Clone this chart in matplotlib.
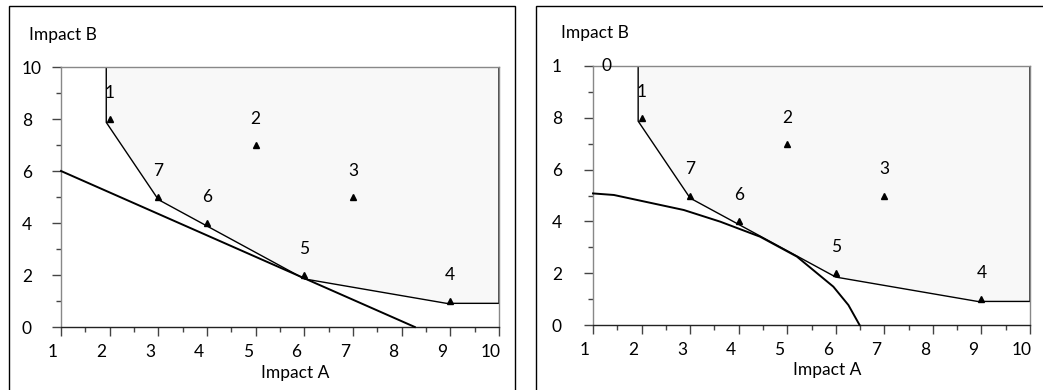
import matplotlib.pyplot as plt
from matplotlib.patches import Rectangle, Polygon
from matplotlib.transforms import ScaledTranslation

# alternatives (impact A, impact B)
labels = ['1', '2', '3', '4', '5', '6', '7']
impact_a = [2, 5, 7, 9, 6, 4, 3]
impact_b = [8, 7, 5, 1, 2, 4, 5]

# dominated region (hull) outline
hull_a = [1.93, 1.93, 3.0, 6.0, 8.92, 10.0, 10.0]
hull_b = [10.0, 7.87, 4.9, 1.85, 0.91, 0.91, 10.0]

# left panel: linear weighting line
line_a = [1.0, 8.27]
line_b = [6.0, 0.0]

# right panel: non-linear utility curve
curve_a = [1.0, 1.43, 2.87, 3.62, 4.44, 5.2, 5.95, 6.26, 6.49]
curve_b = [5.08, 5.02, 4.44, 3.99, 3.41, 2.64, 1.48, 0.77, 0.0]

plt.rcParams['font.family'] = ['Lato', 'DejaVu Sans']
fs = 12.5

W, H = 1043, 390
fig = plt.figure(figsize=(W / 100, H / 100), dpi=100)

# outer frames round each panel
for x0, x1 in [(9, 515), (536, 1050)]:
    fig.patches.append(Rectangle((x0 / W, -0.1), (x1 - x0) / W, 1.1 - 6 / H,
                                 transform=fig.transFigure, fill=False,
                                 edgecolor='black', linewidth=1.0))


def panel(rect, curve, top_label, ylab_x, impb_xy, impa_xy):
    ax = fig.add_axes(rect)
    ax.set_xlim(1, 10)
    ax.set_ylim(0, 10)
    for s in ['top', 'right', 'left']:
        ax.spines[s].set_color('#888888')
        ax.spines[s].set_linewidth(1.0)
    ax.spines['bottom'].set_color('#222222')
    ax.spines['bottom'].set_linewidth(1.0)

    ax.add_patch(Polygon(list(zip(hull_a, hull_b)), closed=False,
                         facecolor='#f8f8f8', edgecolor='black',
                         linewidth=1.0, zorder=2))
    ax.plot(curve[0], curve[1], color='black', linewidth=1.4, zorder=3,
            clip_on=False)
    ax.plot(impact_a, impact_b, linestyle='none', marker='^', color='black',
            markersize=5, zorder=4)
    for lab, a, b in zip(labels, impact_a, impact_b):
        ax.text(a, b + 0.7, lab, ha='center', va='bottom', fontsize=fs)

    ax.set_xticks(range(1, 11))
    ax.set_xticks([i + 0.5 for i in range(1, 10)], minor=True)
    ax.set_yticks(range(0, 11, 2))
    ax.set_yticks(range(1, 10, 2), minor=True)
    ax.tick_params(which='major', length=6.5, width=1.0, color='#444444',
                   labelsize=fs)
    ax.tick_params(which='minor', length=3.6, width=1.0, color='#444444')
    ax.tick_params(axis='x', which='major', pad=6)
    ax.set_xticklabels([str(i) for i in range(1, 11)])
    ylabels = [str(v) for v in range(0, 11, 2)]
    ylabels[-1] = top_label
    ax.set_yticklabels(ylabels)
    off = ScaledTranslation(-8 / 100, 0, fig.dpi_scale_trans)
    for t in ax.get_xticklabels():
        t.set_transform(t.get_transform() + off)
    for t in ax.get_yticklabels():
        t.set_horizontalalignment('left')
        t.set_transform(ax.get_yaxis_transform() +
                        ScaledTranslation(-ylab_x / 100, 0, fig.dpi_scale_trans))
        t.set_x(0)
    fig.text(impb_xy[0] / W, 1 - impb_xy[1] / H, 'Impact B', fontsize=fs,
             ha='left', va='center')
    fig.text(impa_xy[0] / W, 1 - impa_xy[1] / H, 'Impact A', fontsize=fs,
             ha='center', va='center')
    return ax


ax1 = panel([61 / W, 1 - 327 / H, 438 / W, 260 / H], (line_a, line_b), '10',
            39, (29, 35), (295, 373))
ax2 = panel([593 / W, 1 - 325 / H, 437 / W, 259 / H], (curve_a, curve_b), '1',
            41, (561, 33), (827, 370))
# stray "0" of the split "10" label
ax2.text(1.27, 10, '0', ha='center', va='center', fontsize=fs)

fig.savefig('out.png', dpi=100)
